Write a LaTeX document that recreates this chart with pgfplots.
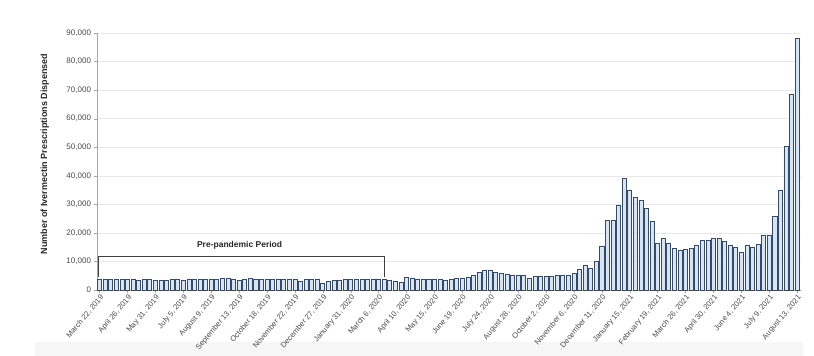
\documentclass[border=0pt]{standalone}
\usepackage{fontspec}
\setmainfont{Liberation Sans}
\usepackage{pgfplots}
\pgfplotsset{compat=1.18}
\usepackage{pgfplotstable}
\definecolor{barfill}{HTML}{D5E5F7}
\definecolor{baredge}{HTML}{3A4A5E}
\definecolor{ticktext}{HTML}{4A4A4A}
\pgfplotstableread{
x y
0 3700
1 3650
2 3700
3 3650
4 3700
5 3600
6 3650
7 3500
8 3650
9 3600
10 3400
11 3550
12 3550
13 3600
14 3750
15 3550
16 3700
17 3750
18 3800
19 3800
20 3850
21 3850
22 3950
23 4000
24 3900
25 3500
26 3900
27 4000
28 3850
29 3800
30 3800
31 3750
32 3800
33 3800
34 3750
35 3700
36 3000
37 3700
38 3800
39 3600
40 2500
41 3000
42 3400
43 3500
44 3600
45 3700
46 3700
47 3750
48 3700
49 3650
50 3700
51 3600
52 3300
53 3000
54 2800
55 4450
56 4100
57 3750
58 3750
59 3750
60 3750
61 3750
62 3400
63 3750
64 3950
65 4000
66 4400
67 5250
68 6200
69 7000
70 7000
71 6200
72 5800
73 5500
74 5250
75 5200
76 5200
77 4100
78 4650
79 4700
80 4900
81 4900
82 5000
83 5100
84 5250
85 5850
86 7250
87 8650
88 7500
89 10150
90 15200
91 24300
92 24300
93 29500
94 39100
95 34800
96 32500
97 31300
98 28600
99 23900
100 16300
101 18200
102 16250
103 14600
104 13750
105 14300
106 14550
107 15700
108 17400
109 17400
110 17950
111 18000
112 16950
113 15550
114 14950
115 13250
116 15500
117 14950
118 16000
119 19050
120 19300
121 25800
122 35000
123 50200
124 68600
125 88000
}\datatable
\begin{document}
\begin{tikzpicture}
\path[use as bounding box] (-97pt,-66pt) rectangle (717pt,290pt);
\fill[gray!7] (-62pt,-66pt) rectangle (706pt,-52pt);
\begin{axis}[
  at={(0pt,0pt)}, anchor=south west,
  scale only axis, width=704pt, height=257pt,
  xmin=-0.45, xmax=125.7, ymin=0, ymax=90000,
  axis lines*=left,
  axis line style={gray!70},
  ytick={0,10000,...,90000},
  ymajorgrids, grid style={gray!18, line width=0.5pt},
  scaled y ticks=false,
  yticklabel style={/pgf/number format/fixed, /pgf/number format/1000 sep={,}, /pgf/number format/assume math mode=true, font=\fontsize{8}{9}\selectfont, text=ticktext},
  xtick={0,5,...,125},
  xticklabels={{March 22, 2019},{April 26, 2019},{May 31, 2019},{July 5, 2019},{August 9, 2019},{September 13, 2019},{October 18, 2019},{November 22, 2019},{December 27, 2019},{January 31, 2020},{March 6, 2020},{April 10, 2020},{May 15, 2020},{June 19, 2020},{July 24, 2020},{August 28, 2020},{October 2, 2020},{November 6, 2020},{December 11, 2020},{January 15, 2021},{February 19, 2021},{March 26, 2021},{April 30, 2021},{June 4, 2021},{July 9, 2021},{August 13, 2021}},
  xticklabel style={rotate=50, anchor=north east, font=\fontsize{7.6}{8}\selectfont, text=ticktext, inner sep=1pt},
  tick align=outside, major tick length=2.5pt, tick style={gray!70},
  ylabel={\bfseries Number of Ivermectin Prescriptions Dispensed},
  ylabel style={font=\fontsize{9}{10}\selectfont, text=black!85, at={(axis description cs:-0.074,0.53)}, anchor=center},
]
\addplot[ybar, bar width=0.72, fill=barfill, draw=baredge, line width=0.55pt] table[x=x, y=y] {\datatable};
\draw[black!75, line width=0.6pt] (axis cs:-0.15,4700) |- (axis cs:51.1,11700) -- (axis cs:51.1,4500);
\node[font=\bfseries\fontsize{8.5}{9}\selectfont, text=black!85] at (axis cs:25.1,15650) {Pre-pandemic Period};
\end{axis}
\end{tikzpicture}
\end{document}
